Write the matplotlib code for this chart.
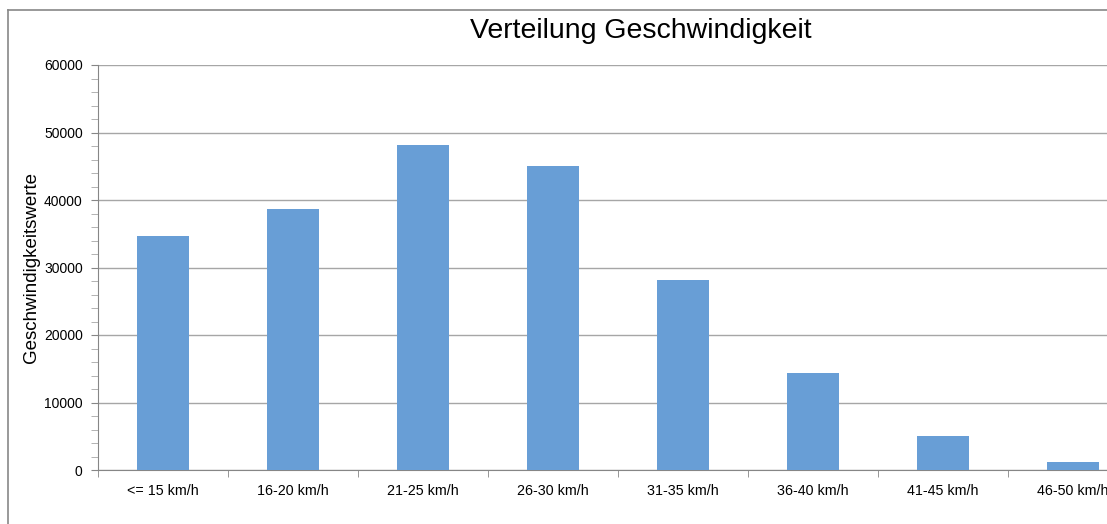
import numpy as np
import matplotlib
matplotlib.use("Agg")
from matplotlib import pyplot as plt
from matplotlib.lines import Line2D

# data
categories = ["<= 15 km/h", "16-20 km/h", "21-25 km/h", "26-30 km/h",
              "31-35 km/h", "36-40 km/h", "41-45 km/h", "46-50 km/h"]
counts = [34700, 38700, 48100, 45000, 28100, 14300, 5100, 1200]
y_ticks = [0, 10000, 20000, 30000, 40000, 50000, 60000]

W, H = 1107, 524
fig = plt.figure(figsize=(W / 100, H / 100), dpi=100)
fig.patch.set_facecolor("white")

# axes run past the right edge, like the cut-off original
ax = fig.add_axes([98 / W, 54 / H, 1040 / W, 405 / H])

x = np.arange(len(categories))
ax.bar(x, counts, width=0.4, color="#689ed6", zorder=3)

ax.set_xlim(-0.5, len(categories) - 0.5)
ax.set_ylim(0, 60000)
ax.set_yticks(y_ticks)
ax.set_yticklabels([str(v) for v in y_ticks], fontsize=10, family="Liberation Sans")
ax.set_yticks(np.arange(0, 60001, 2000), minor=True)
ax.yaxis.grid(True, color="#a6a6a6", linewidth=1, zorder=0)

ax.set_xticks(x)
ax.set_xticklabels(categories, fontsize=10.3, family="Liberation Sans")
ax.set_xticks(np.arange(-0.5, len(categories), 1), minor=True)
ax.tick_params(axis="x", which="major", length=0, pad=10)
ax.tick_params(axis="x", which="minor", length=5, color="#868686", direction="out")
ax.tick_params(axis="y", which="major", length=5, color="#868686", pad=6)
ax.tick_params(axis="y", which="minor", length=5, color="#a6a6a6")

for s in ["top", "right"]:
    ax.spines[s].set_visible(False)
for s in ["left", "bottom"]:
    ax.spines[s].set_color("#868686")

ax.set_ylabel("Geschwindigkeitswerte", fontsize=13.5, family="Liberation Sans")
ax.yaxis.set_label_coords((40 - 98) / 1040, 0.5)

fig.text(641 / W, 1 - 31 / H, "Verteilung Geschwindigkeit", fontsize=20.5,
         family="Liberation Sans", ha="center", va="center")

# chart frame (left and top edges visible)
fig.add_artist(Line2D([7.5 / W, 7.5 / W], [0, 1 - 10 / H], color="#888888", linewidth=1.2))
fig.add_artist(Line2D([7.5 / W, 1], [1 - 10 / H, 1 - 10 / H], color="#888888", linewidth=1.2))

fig.savefig("out.png", dpi=100)
